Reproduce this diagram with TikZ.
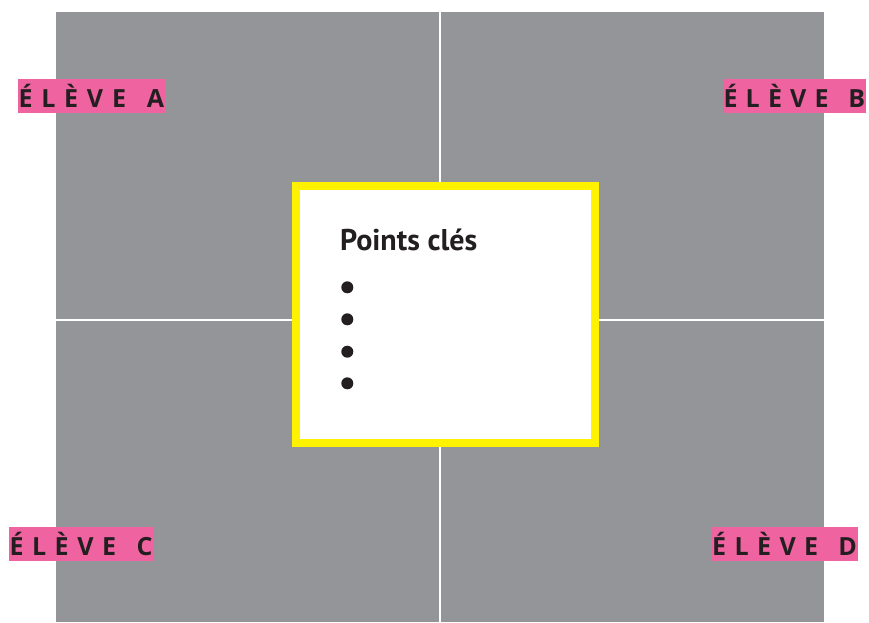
\documentclass[tikz,border=0pt]{standalone}
\usepackage{fontspec}
\setmainfont{PT Sans}
\newfontfamily\labelfont{Open Sans}
\newcommand\spreadword[1]{\hbox to \linewidth{\labelfont\bfseries\fontsize{25}{28}\selectfont #1}}
\definecolor{quadgray}{HTML}{939598}
\definecolor{labelpink}{HTML}{EE63A0}
\definecolor{boxyellow}{HTML}{FFF200}
\definecolor{inkdark}{HTML}{231F20}
\tikzset{
  quad/.style={fill=quadgray, draw=none, inner sep=0pt, anchor=north west},
  keybox/.style={draw=boxyellow, line width=8pt, fill=white, inner sep=0pt},
  pinklabel/.style={fill=labelpink, draw=none, anchor=north west, inner ysep=0pt, inner xsep=1pt,
     minimum height=34.4pt, text=inkdark, align=left},
  dotmark/.style={circle, fill=inkdark, inner sep=0pt, minimum size=12pt},
}
\begin{document}
\begin{tikzpicture}[x=1pt,y=-1pt]
\useasboundingbox (0,0) rectangle (869,622);
\fill[white] (0,0) rectangle (869,622);
% quadrants
\node[quad, minimum width=383pt, minimum height=306.5pt] (qa) at (56,12) {};
\node[quad, minimum width=383pt, minimum height=306.5pt] (qb) at (441,12) {};
\node[quad, minimum width=383pt, minimum height=301.5pt] (qc) at (56,320.5) {};
\node[quad, minimum width=383pt, minimum height=301.5pt] (qd) at (441,320.5) {};
% central box
\node[keybox, minimum width=299.3pt, minimum height=256.4pt] (key) at (445.35,314.5) {};
\node[anchor=base west, inner sep=0pt, text=inkdark, font=\bfseries\fontsize{30}{30}\selectfont] (title) at (340,250.7) {Points clés};
\node[dotmark] (d1) at (347.3,287.3) {};
\node[dotmark] (d2) at (347.3,319.3) {};
\node[dotmark] (d3) at (347.3,351.7) {};
\node[dotmark] (d4) at (347.3,383.3) {};
% labels
\node[pinklabel, text width=145.7pt] (la) at (17.3,78.3) {\spreadword{É\hfil L\hfil È\hfil V\hfil E\hfil\ \hfil A}};
\node[pinklabel, text width=141.7pt] (lb) at (722.3,78.3) {\spreadword{É\hfil L\hfil È\hfil V\hfil E\hfil\ \hfil B}};
\node[pinklabel, text width=143pt] (lc) at (8.3,526.7) {\spreadword{É\hfil L\hfil È\hfil V\hfil E\hfil\ \hfil C}};
\node[pinklabel, text width=144.7pt] (ld) at (711,526.7) {\spreadword{É\hfil L\hfil È\hfil V\hfil E\hfil\ \hfil D}};
\end{tikzpicture}
\end{document}
